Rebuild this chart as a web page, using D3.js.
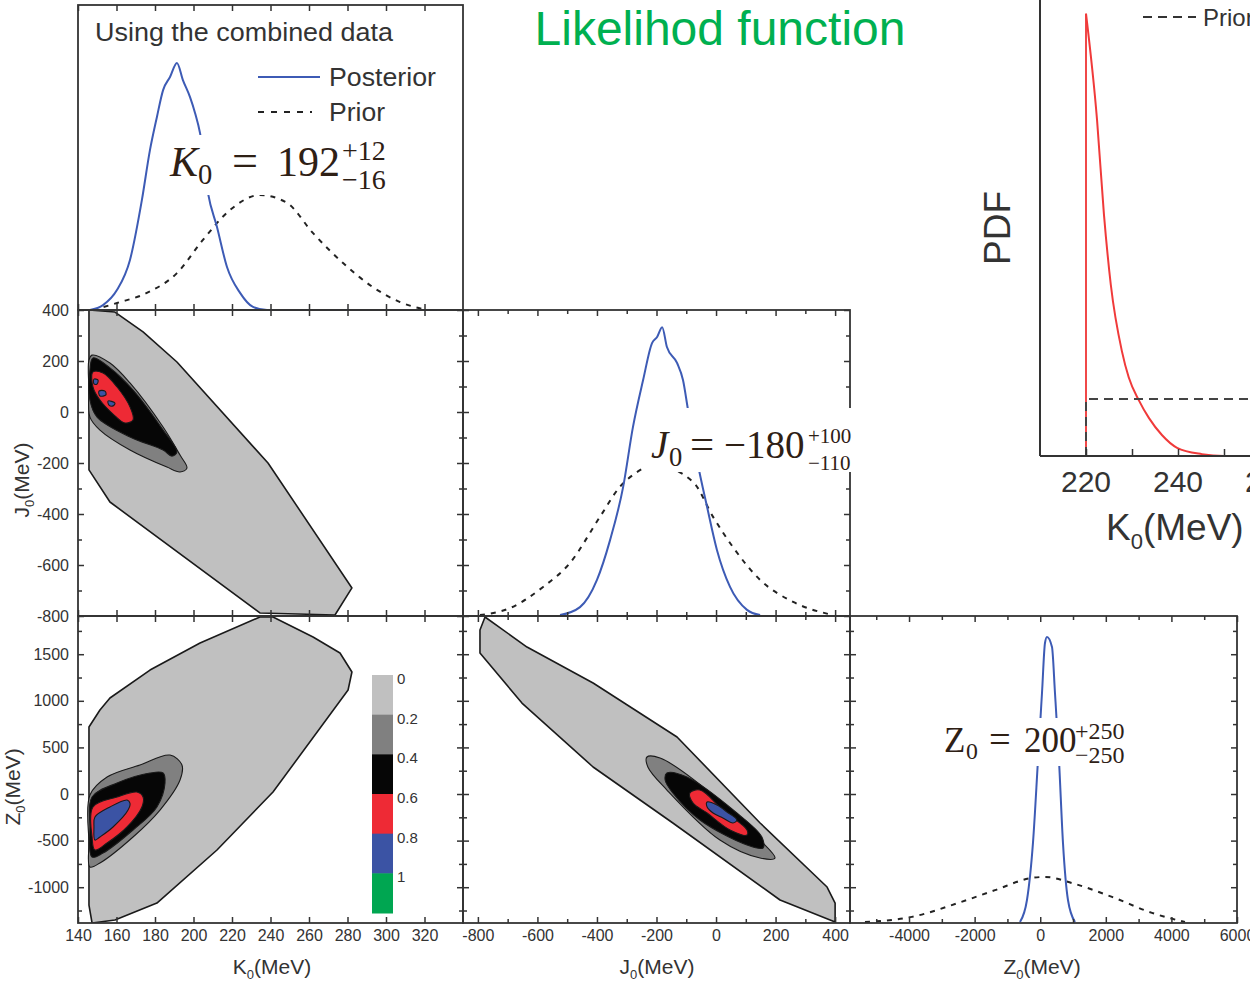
<!DOCTYPE html>
<html>
<head>
<meta charset="utf-8">
<script src="https://cdn.jsdelivr.net/npm/d3@7"></script>
<style>
body { margin: 0; background: #fff; }
text { font-family: "Liberation Sans", Arial, sans-serif; }
</style>
</head>
<body>
<script>
// ---------------- data ----------------
// marginal PDFs, [value, relative density]
var kPost = [[146.2,0],[153,0.016],[160.3,0.066],[167,0.164],[173.2,0.361],[177.4,0.525],[181,0.633],[184.2,0.721],[187.8,0.764],[191.4,0.81],[194.5,0.754],[198.2,0.698],[200.8,0.646],[203.4,0.58],[207.5,0.384],[212.2,0.272],[217.4,0.141],[224.2,0.056],[230.9,0.01],[238.2,0],[326.5,0]];
var kPrior = [[147.8,0],[160.3,0.023],[175.8,0.056],[191.4,0.121],[204.9,0.23],[219,0.328],[234.5,0.377],[248.6,0.351],[262.1,0.252],[277.7,0.154],[293.2,0.075],[307.3,0.026],[321.3,0]];
var jPost = [[-524,0.003],[-457,0.029],[-400,0.118],[-356,0.248],[-312,0.422],[-279,0.618],[-245,0.771],[-215,0.892],[-198,0.912],[-181,0.944],[-165,0.879],[-131,0.827],[-111,0.771],[-94,0.673],[-64,0.51],[-30,0.356],[3,0.216],[47,0.095],[104,0.02],[148,0.003]];
var jPrior = [[-793,0.003],[-692,0.026],[-581,0.095],[-491,0.173],[-390,0.324],[-323,0.422],[-279,0.461],[-205,0.493],[-77,0.438],[-10,0.324],[57,0.225],[148,0.118],[259,0.046],[393,0.003]];
var zPost = [[-617,0.003],[-404,0.075],[-221,0.261],[-68,0.531],[54,0.749],[145,0.912],[206,0.932],[359,0.899],[450,0.749],[572,0.531],[694,0.261],[846,0.075],[1060,0.003]];
var zPrior = [[-5343,0.003],[-3910,0.02],[-2507,0.065],[-1379,0.107],[-251,0.147],[145,0.15],[968,0.13],[2188,0.085],[3407,0.033],[4413,0.003]];

// 2D credible regions, K0 vs J0
var kjL0 = [[145.7,400],[159.2,392],[173.8,314],[191.4,196],[238.7,-200],[282.3,-690],[273.5,-796],[234.5,-788],[156.6,-353],[145.7,-227]];
var kjL1 = [[147.3,223],[156.6,192],[167,114],[184.2,-59],[193,-169],[196.6,-220],[193,-235],[186.2,-216],[167,-149],[151.4,-71],[146.2,-20],[145.7,86],[145.7,204]];
var kjL2 = [[147.8,212],[156.6,173],[168.6,86],[184.2,-71],[191.4,-157],[188.8,-173],[184.2,-149],[167,-98],[149.9,-20],[146.2,47],[146.2,165]];
var kjL3 = [[147.8,157],[153,153],[160.3,98],[167,20],[168.6,-31],[164.4,-43],[158.2,-8],[151.4,47],[147.8,98]];
var kjL4a = [[150.9,82],[154,82],[154.5,67],[151.4,63]];
var kjL4b = [[148.3,129],[150.4,125],[149.9,110],[148.3,110]];
var kjL4c = [[155.6,43],[159.2,35],[158.2,24],[156.1,27]];

// K0 vs Z0
var kzL0 = [[145.7,719],[151.4,901],[156.6,1030],[177.4,1330],[203.4,1620],[234.5,1899],[241.3,1899],[262.1,1685],[276.1,1513],[282.3,1309],[280.3,1116],[241.3,21],[212.2,-601],[181,-1170],[159.2,-1352],[147.3,-1384],[145.7,-1191]];
var kzL1 = [[146.2,-11],[155.1,182],[172.2,311],[187.8,418],[194,311],[193,150],[182.6,-172],[168.6,-461],[151.4,-740],[146.2,-783],[145.7,-526]];
var kzL2 = [[147.3,-32],[160.3,118],[177.4,225],[184.2,225],[185.2,118],[181,-139],[168.6,-386],[153,-633],[147.3,-676],[146.2,-354]];
var kzL3 = [[147.8,-139],[160.3,-32],[170.6,21],[173.8,-32],[173.2,-139],[165.5,-354],[155.1,-526],[148.8,-601],[147.3,-461]];
var kzL4 = [[148.8,-247],[156.6,-139],[165.5,-64],[167,-97],[166,-172],[158.2,-354],[151.4,-461],[148.8,-494],[148.3,-354]];

// J0 vs Z0
var jzL0 = [[-776,1899],[-793,1760],[-793,1513],[-652,976],[-413,290],[-145,-311],[215,-1137],[400,-1373],[400,-1170],[373,-998],[148,-311],[-131,612],[-413,1191],[-635,1577]];
var jzL1 = [[-232,397],[-188,386],[-10,-11],[148,-494],[198,-687],[148,-687],[13,-494],[-165,43],[-229,290]];
var jzL2 = [[-165,225],[-98,182],[70,-204],[154,-461],[158,-579],[104,-547],[-54,-279],[-145,11],[-171,150]];
var jzL3 = [[-88,11],[-54,43],[23,-172],[104,-386],[104,-440],[47,-386],[-30,-204],[-77,-97]];
var jzL4 = [[-30,-86],[3,-118],[37,-193],[70,-279],[57,-311],[23,-258],[-10,-204],[-30,-139]];

// colour bar
var levels = ["0", "0.2", "0.4", "0.6", "0.8", "1"];
var levelColors = ["#c0c0c0", "#808080", "#060606", "#ee2a35", "#3b53a4", "#00a651"];

// ticks
var kMajor = [140,160,180,200,220,240,260,280,300,320];
var jMajor = [-800,-600,-400,-200,0,200,400];
var jMinor = [-700,-500,-300,-100,100,300];
var zyMajor = [-1000,-500,0,500,1000,1500];
var zyMinor = [-1250,-750,-250,250,750,1250,1750];
var zxMajor = [-4000,-2000,0,2000,4000,6000];
var zxMinor = [-5000,-3000,-1000,1000,3000,5000];

// inset (likelihood function)
var inPost = [[220,0.97],[222.4,0.737],[223.9,0.53],[225.4,0.375],[227.8,0.23],[229.3,0.172],[231.5,0.122],[233.7,0.083],[236.5,0.046],[239.8,0.018],[245.2,0.004],[250,0],[270,0]];
var inPriorLevel = 0.125;
var inTicks = [220,230,240,250,260];
var inLabels = [220,240,260];

// ---------------- drawing ----------------
var svg = d3.select("body").append("svg").attr("width", 1250).attr("height", 988);
svg.append("rect").attr("width", 1250).attr("height", 988).attr("fill", "#fff");

var xK = d3.scaleLinear().domain([140, 340]).range([78, 463]);
var xJ = d3.scaleLinear().domain([-850, 450]).range([463, 850]);
var xZ = d3.scaleLinear().domain([-5800, 6000]).range([850, 1237]);
var yJ = d3.scaleLinear().domain([-800, 400]).range([616, 310]);
var yZ = d3.scaleLinear().domain([-1384, 1910]).range([923, 616]);
var dK = d3.scaleLinear().domain([0, 1]).range([310, 5]);
var dJ = d3.scaleLinear().domain([0, 1]).range([616, 310]);
var dZ = d3.scaleLinear().domain([0, 1]).range([923, 616]);

var panels = [
  {id:"p1", x:xK, y:null, l:78, r:463, t:5, b:310, xMaj:kMajor},
  {id:"p2", x:xK, y:yJ, l:78, r:463, t:310, b:616, xMaj:kMajor, yMaj:jMajor, yMin:jMinor},
  {id:"p3", x:xK, y:yZ, l:78, r:463, t:616, b:923, xMaj:kMajor, yMaj:zyMajor, yMin:zyMinor},
  {id:"p4", x:xJ, y:yJ, l:463, r:850, t:310, b:616, xMaj:jMajor, xMin:jMinor, yMaj:jMajor, yMin:jMinor},
  {id:"p5", x:xJ, y:yZ, l:463, r:850, t:616, b:923, xMaj:jMajor, xMin:jMinor, yMaj:zyMajor, yMin:zyMinor},
  {id:"p6", x:xZ, y:yZ, l:850, r:1237, t:616, b:923, xMaj:zxMajor, xMin:zxMinor, yMaj:zyMajor, yMin:zyMinor}
];

var defs = svg.append("defs");
panels.forEach(function(p){
  defs.append("clipPath").attr("id", "clip-" + p.id)
    .append("rect").attr("x", p.l).attr("y", p.t).attr("width", p.r - p.l).attr("height", p.b - p.t);
});

// contour regions
function drawRegions(p, xs, ys, list){
  var g = svg.append("g").attr("clip-path", "url(#clip-" + p + ")");
  list.forEach(function(d){
    var line = d3.line().x(function(v){ return xs(v[0]); }).y(function(v){ return ys(v[1]); })
      .curve(d[1] == 0 ? d3.curveLinearClosed : d3.curveCatmullRomClosed);
    g.append("path").attr("d", line(d[0]))
      .attr("fill", levelColors[d[1]])
      .attr("stroke", "#1a1a1a")
      .attr("stroke-width", d[1] == 0 ? 1.6 : 1.1)
      .attr("stroke-linejoin", "round");
  });
}
drawRegions("p2", xK, yJ, [[kjL0,0],[kjL1,1],[kjL2,2],[kjL3,3],[kjL4a,4],[kjL4b,4],[kjL4c,4]]);
drawRegions("p3", xK, yZ, [[kzL0,0],[kzL1,1],[kzL2,2],[kzL3,3],[kzL4,4]]);
drawRegions("p5", xJ, yZ, [[jzL0,0],[jzL1,1],[jzL2,2],[jzL3,3],[jzL4,4]]);

// marginal curves
function drawCurve(xs, ys, data, dashed){
  var line = d3.line().x(function(v){ return xs(v[0]); }).y(function(v){ return ys(v[1]); }).curve(d3.curveMonotoneX);
  svg.append("path").attr("d", line(data)).attr("fill", "none")
    .attr("stroke", dashed ? "#222" : "#3d5bb5")
    .attr("stroke-width", 2)
    .attr("stroke-dasharray", dashed ? "5,6" : null);
}
drawCurve(xK, dK, kPrior, true);
drawCurve(xK, dK, kPost, false);
drawCurve(xJ, dJ, jPrior, true);
drawCurve(xJ, dJ, jPost, false);
drawCurve(xZ, dZ, zPrior, true);
drawCurve(xZ, dZ, zPost, false);

// frames and inward ticks
function tickSide(axis, tr, vals, size){
  var g = svg.append("g").attr("transform", tr)
    .call(axis.tickValues(vals).tickSize(size).tickFormat(""));
  g.select(".domain").remove();
  g.selectAll("line").attr("stroke", "#333").attr("stroke-width", 1.5);
}
panels.forEach(function(p){
  tickSide(d3.axisTop(p.x), "translate(0," + p.t + ")", p.xMaj, -6);
  tickSide(d3.axisBottom(p.x), "translate(0," + p.b + ")", p.xMaj, -6);
  if (p.xMin) {
    tickSide(d3.axisTop(p.x), "translate(0," + p.t + ")", p.xMin, -4);
    tickSide(d3.axisBottom(p.x), "translate(0," + p.b + ")", p.xMin, -4);
  }
  if (p.y) {
    tickSide(d3.axisLeft(p.y), "translate(" + p.l + ",0)", p.yMaj, -6);
    tickSide(d3.axisRight(p.y), "translate(" + p.r + ",0)", p.yMaj, -6);
    tickSide(d3.axisLeft(p.y), "translate(" + p.l + ",0)", p.yMin, -4);
    tickSide(d3.axisRight(p.y), "translate(" + p.r + ",0)", p.yMin, -4);
  }
  svg.append("rect").attr("x", p.l).attr("y", p.t).attr("width", p.r - p.l).attr("height", p.b - p.t)
    .attr("fill", "none").attr("stroke", "#333").attr("stroke-width", 1.8);
});

// tick labels
function labelAxis(axis, tr, vals){
  var g = svg.append("g").attr("transform", tr)
    .call(axis.tickValues(vals).tickSize(0).tickPadding(7).tickFormat(function(d){ return String(d); }));
  g.select(".domain").remove();
  g.selectAll("text").attr("fill", "#333").style("font-size", "16px").style("font-family", "'Liberation Sans', Arial, sans-serif");
}
labelAxis(d3.axisBottom(xK), "translate(0,923)", kMajor);
labelAxis(d3.axisBottom(xJ), "translate(0,923)", jMajor);
labelAxis(d3.axisBottom(xZ), "translate(0,923)", zxMajor);
labelAxis(d3.axisLeft(yJ), "translate(76,0)", jMajor);
labelAxis(d3.axisLeft(yZ), "translate(76,0)", zyMajor);

// axis titles with subscript 0
function axisTitle(x, y, letter, rotate){
  var t = svg.append("text").attr("text-anchor", "middle").attr("fill", "#333").style("font-size", "21px")
    .attr("transform", "translate(" + x + "," + y + ")" + (rotate ? " rotate(-90)" : ""));
  t.append("tspan").text(letter);
  t.append("tspan").attr("dy", 5).style("font-size", "13px").text("0");
  t.append("tspan").attr("dy", -5).text("(MeV)");
}
axisTitle(272, 974, "K", false);
axisTitle(657, 974, "J", false);
axisTitle(1042, 974, "Z", false);
axisTitle(29, 480, "J", true);
axisTitle(20, 787, "Z", true);

// colour bar
var cb = d3.scaleBand().domain(levels).range([675, 913]);
svg.selectAll(".cb").data(levels).enter().append("rect")
  .attr("x", 372).attr("width", 21)
  .attr("y", function(d){ return cb(d); }).attr("height", cb.bandwidth() + 0.5)
  .attr("fill", function(d, i){ return levelColors[i]; });
svg.selectAll(".cbl").data(levels).enter().append("text")
  .attr("x", 397).attr("y", function(d){ return cb(d) + 9; })
  .attr("fill", "#333").style("font-size", "15px").text(function(d){ return d; });

// top-left panel title and legend
svg.append("text").attr("x", 95).attr("y", 41).attr("fill", "#333").style("font-size", "25px")
  .attr("textLength", 298).attr("lengthAdjust", "spacingAndGlyphs").text("Using the combined data");
svg.append("line").attr("x1", 258).attr("x2", 320).attr("y1", 77).attr("y2", 77).attr("stroke", "#3d5bb5").attr("stroke-width", 2);
svg.append("text").attr("x", 329).attr("y", 86).attr("fill", "#333").style("font-size", "25px")
  .attr("textLength", 107).attr("lengthAdjust", "spacingAndGlyphs").text("Posterior");
svg.append("line").attr("x1", 258).attr("x2", 312).attr("y1", 112).attr("y2", 112).attr("stroke", "#222").attr("stroke-width", 2).attr("stroke-dasharray", "6,7");
svg.append("text").attr("x", 329).attr("y", 121).attr("fill", "#333").style("font-size", "25px")
  .attr("textLength", 56).attr("lengthAdjust", "spacingAndGlyphs").text("Prior");

// result boxes: letter, subscript 0, "=", value, stacked errors; positions relative to x
function resultBox(b, x, y, size, ssize, letter, italic, value, sup, sub, pos){
  svg.append("rect").attr("x", b[0]).attr("y", b[1]).attr("width", b[2]).attr("height", b[3]).attr("fill", "#fff");
  var serif = "'Liberation Serif', 'DejaVu Serif', serif";
  var col = "#2e2015";
  function put(px, py, fs, str, it){
    svg.append("text").attr("x", x + px).attr("y", y + py).attr("fill", col)
      .style("font-family", serif).style("font-size", fs + "px")
      .style("font-style", it ? "italic" : "normal").text(str);
  }
  put(0, 0, size, letter, italic);
  put(pos[0], size * 0.2, size * 0.68, "0", false);
  put(pos[1], 0, size * 1.1, "=", false);
  put(pos[2], 0, size, value, false);
  put(pos[3], -size * 0.38, ssize, sup, false);
  put(pos[3], size * 0.3, ssize, sub, false);
}
resultBox([165, 135, 230, 60], 170, 176, 42, 28, "K", true, "192", "+12", "\u221216", [28, 62, 107, 172]);
resultBox([645, 408, 213, 64], 651, 458, 39, 21, "J", true, "\u2212180", "+100", "\u2212110", [18, 39, 73, 157]);
resultBox([940, 718, 190, 48], 944, 752, 35, 24, "Z", false, "200", "+250", "\u2212250", [22, 45, 80, 131]);

// title
svg.append("text").attr("x", 720).attr("y", 45).attr("text-anchor", "middle")
  .attr("fill", "#00b050").style("font-size", "48px").text("Likelihod function");

// inset: likelihood function for K0
var xIn = d3.scaleLinear().domain([210, 270]).range([1040, 1316]);
var yIn = d3.scaleLinear().domain([0, 1]).range([456, 0]);
var lineIn = d3.line().x(function(v){ return xIn(v[0]); }).y(function(v){ return yIn(v[1]); });
svg.append("path").attr("d", lineIn([[210,0],[220,0],[220,inPost[0][1]]]))
  .attr("fill", "none").attr("stroke", "#f04848").attr("stroke-width", 2);
svg.append("path").attr("d", lineIn.curve(d3.curveMonotoneX)(inPost))
  .attr("fill", "none").attr("stroke", "#f03a3a").attr("stroke-width", 2);
lineIn.curve(d3.curveLinear);
svg.append("path").attr("d", lineIn([[220,0],[220,inPriorLevel],[270,inPriorLevel]]))
  .attr("fill", "none").attr("stroke", "#444").attr("stroke-width", 2).attr("stroke-dasharray", "9,6");
var gIn = svg.append("g").attr("transform", "translate(0,456)")
  .call(d3.axisBottom(xIn).tickValues(inTicks).tickSize(-7).tickFormat(""));
gIn.select(".domain").remove();
gIn.selectAll("line").attr("stroke", "#333").attr("stroke-width", 1.5);
svg.append("line").attr("x1", 1040).attr("x2", 1040).attr("y1", 0).attr("y2", 456).attr("stroke", "#333").attr("stroke-width", 2);
svg.append("line").attr("x1", 1040).attr("x2", 1250).attr("y1", 456).attr("y2", 456).attr("stroke", "#333").attr("stroke-width", 2);
svg.selectAll(".inl").data(inLabels).enter().append("text")
  .attr("x", function(d){ return xIn(d); }).attr("y", 492).attr("text-anchor", "middle")
  .attr("fill", "#333").style("font-size", "30px").text(function(d){ return d; });
var kt = svg.append("text").attr("x", 1106).attr("y", 540).attr("fill", "#333").style("font-size", "37px");
kt.append("tspan").text("K");
kt.append("tspan").attr("dy", 9).style("font-size", "22px").text("0");
kt.append("tspan").attr("dy", -9).text("(MeV)");
svg.append("text").attr("transform", "translate(1010,228) rotate(-90)").attr("text-anchor", "middle")
  .attr("fill", "#333").style("font-size", "37px").text("PDF");
svg.append("line").attr("x1", 1143).attr("x2", 1196).attr("y1", 17).attr("y2", 17)
  .attr("stroke", "#333").attr("stroke-width", 2).attr("stroke-dasharray", "9,6");
svg.append("text").attr("x", 1203).attr("y", 26).attr("fill", "#333").style("font-size", "24px").text("Prior");
</script>
</body>
</html>
